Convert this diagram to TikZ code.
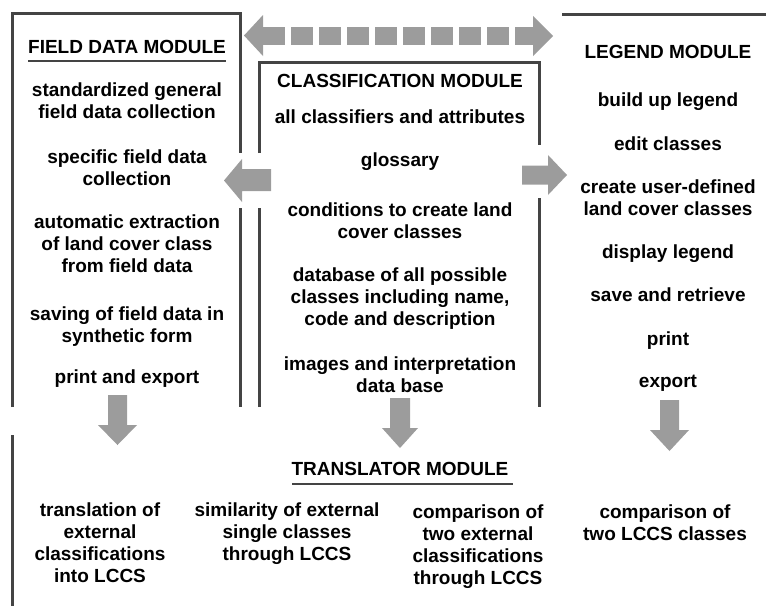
\documentclass[tikz,border=0pt]{standalone}
\usepackage{fontspec}
\setmainfont{Liberation Sans}
\definecolor{linegray}{HTML}{444444}
\definecolor{arrowgray}{HTML}{9C9C9C}
\begin{document}
\begin{tikzpicture}[x=1pt,y=-1pt,
  txt/.style={font=\fontsize{19}{22}\selectfont\bfseries, align=center, inner sep=0pt, anchor=north, text=black},
  boxline/.style={draw=linegray, line width=3pt},
  uline/.style={draw=linegray, line width=2.6pt},
  blockarrow/.style={fill=arrowgray, draw=none}]
\useasboundingbox (0,0) rectangle (766,606);

% ---------- module frames ----------
\draw[boxline] (12,407) -- (12,13) -- (240,13) -- (240,153);
\draw[boxline] (240,208) -- (240,407);
\draw[boxline] (259,407) -- (259,208);
\draw[boxline] (259,153) -- (259,62) -- (539,62) -- (539,145);
\draw[boxline] (539,198) -- (539,407);
\draw[boxline] (562,14) -- (766,14);
\draw[boxline] (12,435) -- (12,606);

% ---------- field data module ----------
\node[txt] (fdtitle) at (127,40) {FIELD DATA MODULE};
\draw[uline] (28,61) -- (226,61);
\node[txt] (fd1) at (127,82.5) {standardized general\\field data collection};
\node[txt] (fd2) at (127,150) {specific field data\\collection};
\node[txt] (fd3) at (127,215) {automatic extraction\\of land cover class\\from field data};
\node[txt] (fd4) at (127,307) {saving of field data in\\synthetic form};
\node[txt] (fd5) at (127,370) {print and export};

% ---------- classification module ----------
\node[txt] (cltitle) at (400,74) {CLASSIFICATION MODULE};
\node[txt] (cl1) at (400,110) {all classifiers and attributes};
\node[txt] (cl2) at (400,153) {glossary};
\node[txt] (cl3) at (400,203) {conditions to create land\\cover classes};
\node[txt] (cl4) at (400,268) {database of all possible\\classes including name,\\code and description};
\node[txt] (cl5) at (400,357) {images and interpretation\\data base};

% ---------- legend module ----------
\node[txt] (lgtitle) at (668,45) {LEGEND MODULE};
\node[txt] (lg1) at (668,93) {build up legend};
\node[txt] (lg2) at (668,137) {edit classes};
\node[txt] (lg3) at (668,180) {create user-defined\\land cover classes};
\node[txt] (lg4) at (668,245) {display legend};
\node[txt] (lg5) at (668,288) {save and retrieve};
\node[txt] (lg6) at (668,332) {print};
\node[txt] (lg7) at (668,375) {export};

% ---------- translator module ----------
\node[txt] (trtitle) at (400,462) {TRANSLATOR MODULE};
\draw[uline] (292,484) -- (513,484);
\node[txt] (tr1) at (100,503) {translation of\\external\\classifications\\into LCCS};
\node[txt] (tr2) at (287,503) {similarity of external\\single classes\\through LCCS};
\node[txt] (tr3) at (478,505) {comparison of\\two external\\classifications\\through LCCS};
\node[txt] (tr4) at (665,505) {comparison of\\two LCCS classes};

% ---------- block arrows ----------
% top dashed double arrow
\fill[blockarrow] (263,15) -- (244,35.5) -- (263,56) -- cycle;
\fill[blockarrow] (533,16) -- (553,36) -- (533,56) -- cycle;
\draw[draw=arrowgray, line width=18pt, dash pattern=on 22pt off 6pt] (263,36) -- (533,36);
% classification -> field data
\fill[blockarrow] (271,169) -- (242,169) -- (242,159) -- (224,180.5) -- (242,202) -- (242,191) -- (271,191) -- cycle;
% classification -> legend
\fill[blockarrow] (522,165.5) -- (548,165.5) -- (548,155) -- (567,175) -- (548,195) -- (548,184.5) -- (522,184.5) -- cycle;
% down arrows
\fill[blockarrow] (108,395) -- (127,395) -- (127,425) -- (137,425) -- (117.5,445) -- (98,425) -- (108,425) -- cycle;
\fill[blockarrow] (390,398) -- (410,398) -- (410,428) -- (418,428) -- (400,448) -- (382,428) -- (390,428) -- cycle;
\fill[blockarrow] (660,400) -- (679,400) -- (679,430) -- (689,430) -- (669.5,451) -- (650,430) -- (660,430) -- cycle;
\end{tikzpicture}
\end{document}
